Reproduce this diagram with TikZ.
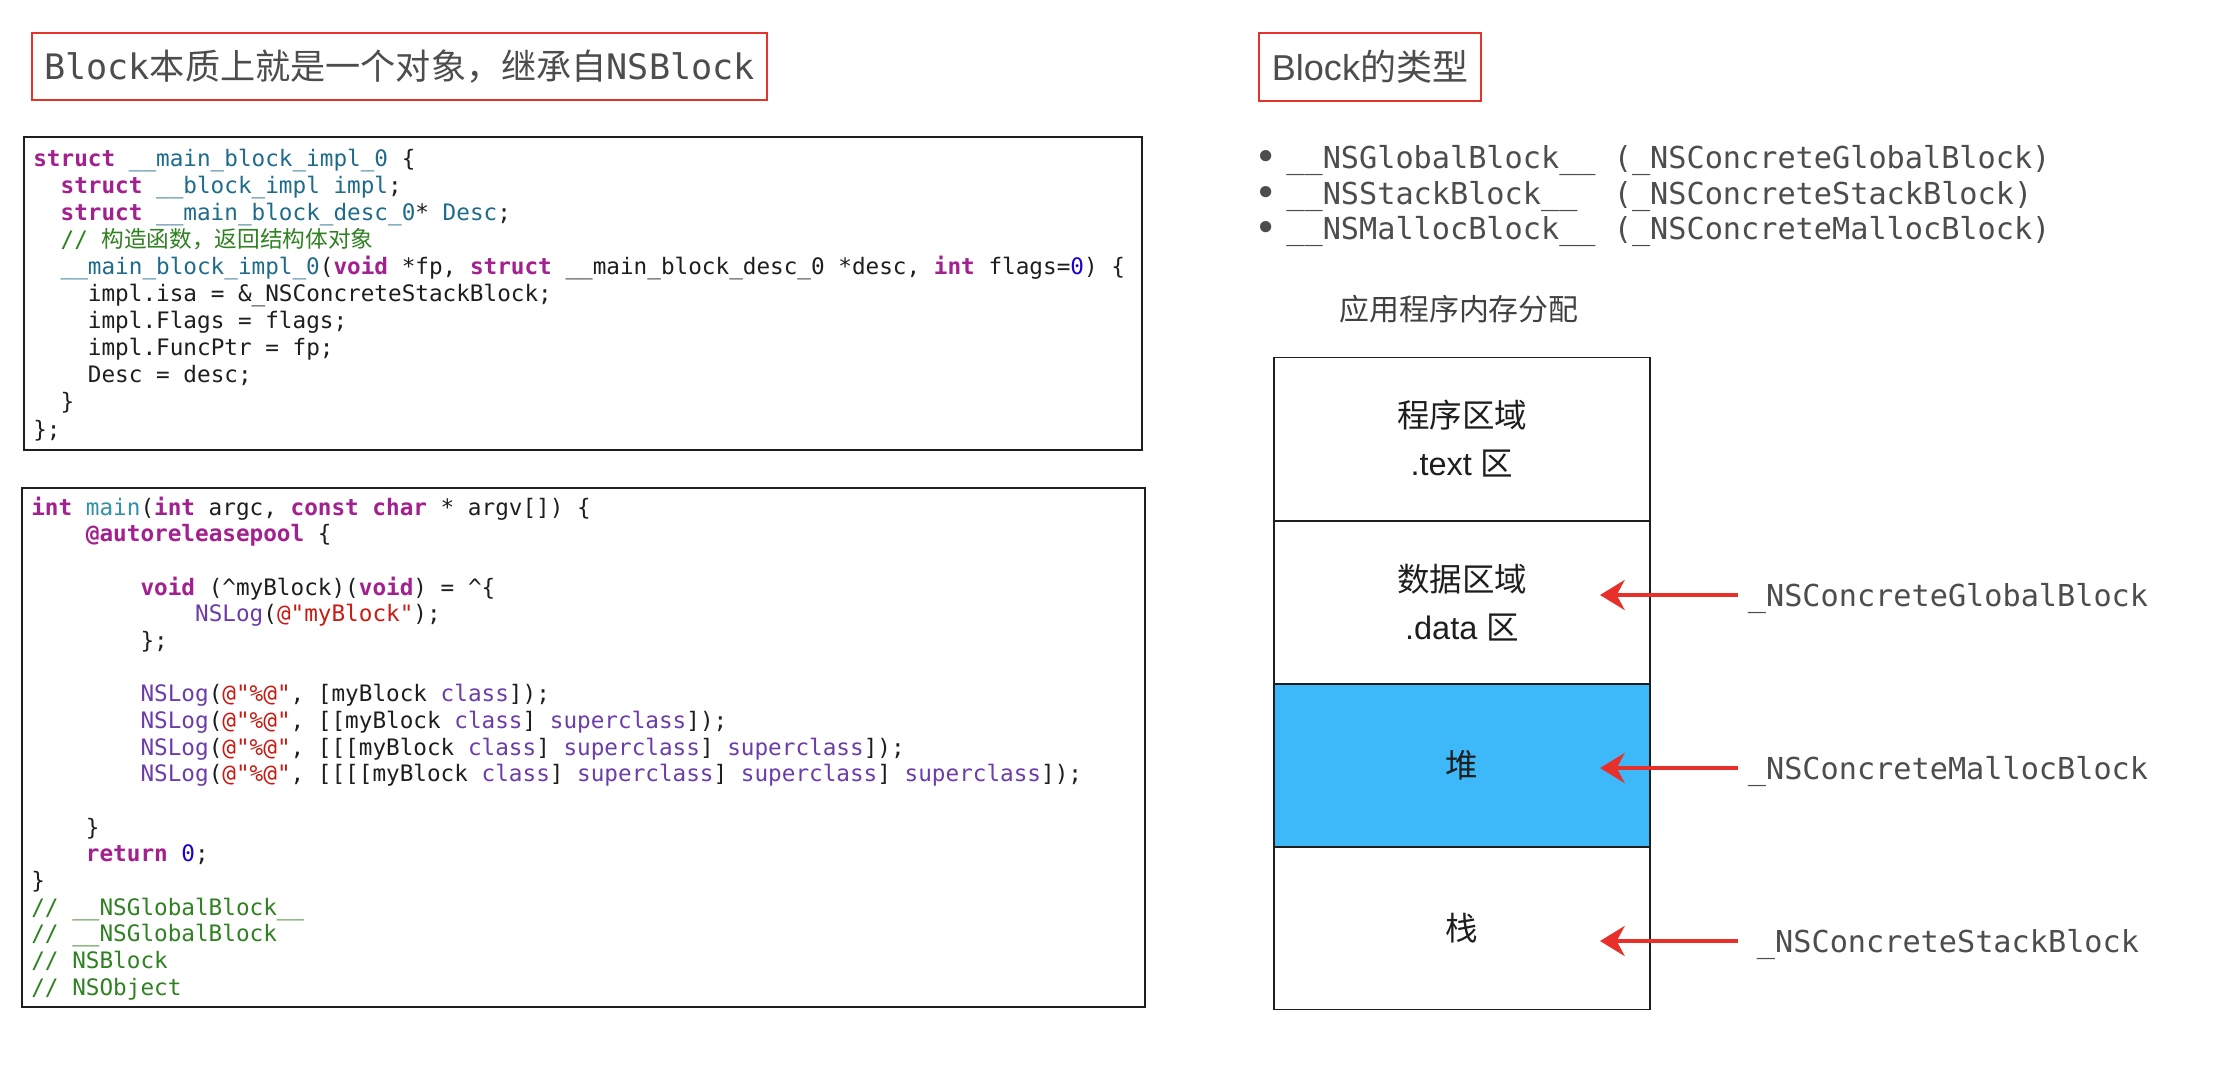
\documentclass[tikz,border=0pt]{standalone}
\usepackage{fontspec}
\setmainfont{Liberation Sans}
\setmonofont{DejaVu Sans Mono}
\newfontfamily\cjk{Noto Sans CJK SC}
\usetikzlibrary{arrows.meta}
\definecolor{ink}{HTML}{1E1E1E}
\definecolor{txtgrey}{HTML}{4D4D4D}
\definecolor{frame}{HTML}{E3342C}
\definecolor{arrowred}{HTML}{E8302A}
\definecolor{heap}{HTML}{3DB9FA}
\definecolor{kwd}{HTML}{A3208F}
\definecolor{typ}{HTML}{1F6B8C}
\definecolor{mainc}{HTML}{3290A8}
\definecolor{fnc}{HTML}{6C3DAA}
\definecolor{strc}{HTML}{C91B13}
\definecolor{numc}{HTML}{1C00CF}
\definecolor{cmt}{HTML}{2F8121}
\newcommand{\ckw}[1]{\textcolor{kwd}{\textbf{#1}}}
\newcommand{\cty}[1]{\textcolor{typ}{#1}}
\newcommand{\cmain}[1]{\textcolor{mainc}{#1}}
\newcommand{\cfn}[1]{\textcolor{fnc}{#1}}
\newcommand{\cstr}[1]{\textcolor{strc}{#1}}
\newcommand{\cnum}[1]{\textcolor{numc}{#1}}
\newcommand{\ccmt}[1]{\textcolor{cmt}{#1}}
\begin{document}
\catcode`\_=12
\begin{tikzpicture}[x=0.02cm,y=-0.02cm,text=ink,
  titlebox/.style={draw=frame,line width=1.4pt,text=txtgrey,inner sep=0},
  codeframe/.style={draw=ink,line width=1.2pt},
  codeline/.style={anchor=base west,inner sep=0,font=\ttfamily\fontsize{12.9}{15}\selectfont},
  kind/.style={anchor=base west,inner sep=0,text=txtgrey,font=\ttfamily\fontsize{17.2}{20}\selectfont},
  seg/.style={draw=ink,line width=1.1pt,minimum width=7.52cm,minimum height=3.26cm,
    align=center,inner sep=0,font=\fontsize{18.5}{27.3}\selectfont},
  blocklabel/.style={inner sep=0,text=txtgrey,font=\ttfamily\fontsize{17.2}{20}\selectfont,
    text height=12.6pt,text depth=0pt,minimum width=8.4cm},
  redarrow/.style={draw=arrowred,line width=2.4pt,-{Stealth[length=14pt,width=17pt,inset=4.5pt]}}]
  \fill[white] (0,0) rectangle (2224,1080);
  \useasboundingbox (0,0) rectangle (2224,1080);

  \node[titlebox,minimum width=14.7cm,minimum height=1.34cm,font=\fontsize{20}{24}\selectfont]
    (essence) at (399.5,66.5)
    {{\ttfamily Block}{\cjk 本质上就是一个对象，继承自}{\ttfamily NSBlock}};
  \node[titlebox,minimum width=4.44cm,minimum height=1.36cm,font=\fontsize{20.5}{24}\selectfont]
    (kinds) at (1370,67) {Block{\cjk 的类型}};

  \draw[codeframe] (24,137) rectangle (1142,450);
  \foreach \n/\col/\src in {
    0/0/{\ckw{struct} \cty{__main_block_impl_0} \{},
    1/2/{\ckw{struct} \cty{__block_impl} \cty{impl};},
    2/2/{\ckw{struct} \cty{__main_block_desc_0}* \cty{Desc};},
    3/2/{\ccmt{// {\cjk 构造函数，返回结构体对象}}},
    4/2/{\cty{__main_block_impl_0}(\ckw{void} *fp, \ckw{struct} __main_block_desc_0 *desc, \ckw{int} flags=\cnum{0}) \{},
    5/4/{impl.isa = \&_NSConcreteStackBlock;},
    6/4/{impl.Flags = flags;},
    7/4/{impl.FuncPtr = fp;},
    8/4/{Desc = desc;},
    9/2/{\}},
    10/0/{\};}}{
    \node[codeline] (impl\n) at ({33+\col*13.65},{166+\n*27.1}) {\src};
  }

  \draw[codeframe] (22,488) rectangle (1145,1007);
  \foreach \n/\col/\src in {
    0/0/{\ckw{int} \cmain{main}(\ckw{int} argc, \ckw{const} \ckw{char} * argv[]) \{},
    1/4/{\ckw{@autoreleasepool} \{},
    3/8/{\ckw{void} (\textasciicircum myBlock)(\ckw{void}) = \textasciicircum\{},
    4/12/{\cfn{NSLog}(\cstr{@"myBlock"});},
    5/8/{\};},
    7/8/{\cfn{NSLog}(\cstr{@"\%@"}, [myBlock \cfn{class}]);},
    8/8/{\cfn{NSLog}(\cstr{@"\%@"}, [[myBlock \cfn{class}] \cfn{superclass}]);},
    9/8/{\cfn{NSLog}(\cstr{@"\%@"}, [[[myBlock \cfn{class}] \cfn{superclass}] \cfn{superclass}]);},
    10/8/{\cfn{NSLog}(\cstr{@"\%@"}, [[[[myBlock \cfn{class}] \cfn{superclass}] \cfn{superclass}] \cfn{superclass}]);},
    12/4/{\}},
    13/4/{\ckw{return} \cnum{0};},
    14/0/{\}},
    15/0/{\ccmt{// __NSGlobalBlock__}},
    16/0/{\ccmt{// __NSGlobalBlock}},
    17/0/{\ccmt{// NSBlock}},
    18/0/{\ccmt{// NSObject}}}{
    \node[codeline] (main\n) at ({31+\col*13.65},{515+\n*26.67}) {\src};
  }

  \foreach \i/\y/\src in {
    1/168/{__NSGlobalBlock__ (_NSConcreteGlobalBlock)},
    2/204/{__NSStackBlock__\ \ (_NSConcreteStackBlock)},
    3/239/{__NSMallocBlock__ (_NSConcreteMallocBlock)}}{
    \node[kind,anchor=base,font=\ttfamily\fontsize{22}{24}\selectfont] (dot\i) at (1266,\y+2) {•};
    \node[kind] (kind\i) at (1286,\y) {\src};
  }

  \node[font=\cjk\fontsize{17}{20}\selectfont,text=ink!85] (memtitle) at (1459,309) {应用程序内存分配};
  \node[seg] (textseg) at (1462,439) {{\cjk 程序区域}\\.text {\cjk 区}};
  \node[seg] (dataseg) at (1462,602.5) {{\cjk 数据区域}\\.data {\cjk 区}};
  \node[seg,fill=heap] (heapseg) at (1462,765.5) {{\cjk 堆}};
  \node[seg] (stackseg) at (1462,928) {{\cjk 栈}};

  \foreach \n/\y/\src in {g/595/{_NSConcreteGlobalBlock},m/768/{_NSConcreteMallocBlock},
    s/941/{_NSConcreteStackBlock}}{
    \node[blocklabel] (lab\n) at (1948,\y) {\src};
    \coordinate (tip\n) at (1600,\y);
    \draw[redarrow] (lab\n.west) -- (tip\n);
  }
\end{tikzpicture}
\end{document}
